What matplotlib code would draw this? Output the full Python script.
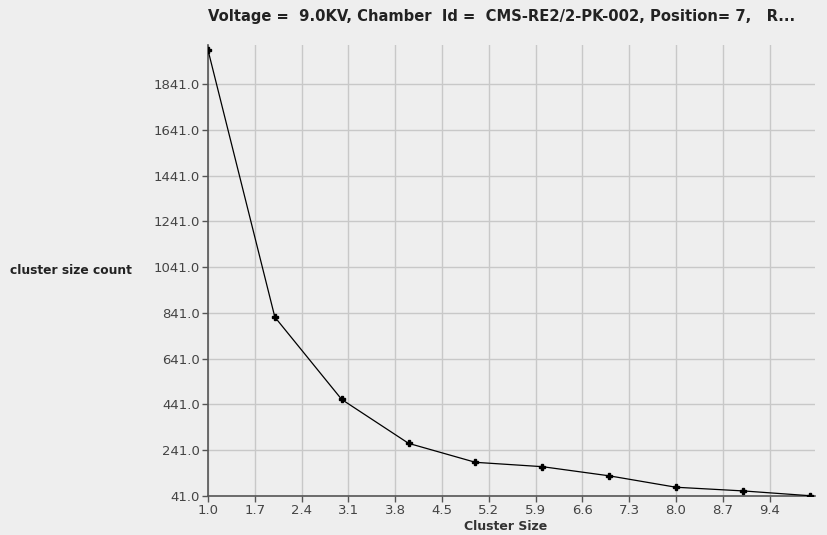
import matplotlib
matplotlib.use("Agg")
import matplotlib.pyplot as plt
import numpy as np

cluster_size = [1, 2, 3, 4, 5, 6, 7, 8, 9, 10]
counts = [1990, 822, 462, 270, 187, 168, 128, 78, 62, 41]
y_ticks = [41, 241, 441, 641, 841, 1041, 1241, 1441, 1641, 1841]
x_ticks = [1.0, 1.7, 2.4, 3.1, 3.8, 4.5, 5.2, 5.9, 6.6, 7.3, 8.0, 8.7, 9.4]
title = "Voltage =  9.0KV, Chamber  Id =  CMS-RE2/2-PK-002, Position= 7,   R..."

plt.rcParams['font.family'] = ['DejaVu Sans']
bg = '#eeeeee'
fig = plt.figure(figsize=(8.28, 5.35), dpi=100, facecolor=bg)
ax = fig.add_axes([208/828, 1 - 495.7/535, 607/828, (495.7-45)/535])
ax.set_facecolor(bg)

ax.plot(cluster_size, counts, color='black', lw=0.9, marker='P', ms=4, mec='black', mfc='black', zorder=3)

ax.set_xlim(1.0, 10.08)
ax.set_ylim(41, 2012)
ax.set_xticks(x_ticks)
ax.set_xticklabels([f"{v:.1f}" for v in x_ticks])
ax.set_yticks(y_ticks)
ax.set_yticklabels([f"{v:.1f}" for v in y_ticks])
ax.grid(True, color='#c8c8c8', lw=1.0)
ax.set_axisbelow(True)
for s in ['top', 'right']:
    ax.spines[s].set_visible(False)
for s in ['left', 'bottom']:
    ax.spines[s].set_color('#555555')
    ax.spines[s].set_linewidth(1.2)
ax.tick_params(axis='both', direction='out', length=4, width=1, color='#555555',
               labelsize=9.5, labelcolor='#444444', pad=2)

fig.text(506/828, 1 - 527/535, "Cluster Size", fontsize=9, fontweight='bold',
         color='#333333', ha='center', va='center')
fig.text(10/828, 1 - 271/535, "cluster size count", fontsize=8.8, fontweight='bold',
         color='#222222', ha='left', va='center')
fig.text(208/828, 1 - 17/535, title, fontsize=10.6, fontweight='bold', color='#222222',
         ha='left', va='center')

fig.savefig("out.png", dpi=100, facecolor=bg)
